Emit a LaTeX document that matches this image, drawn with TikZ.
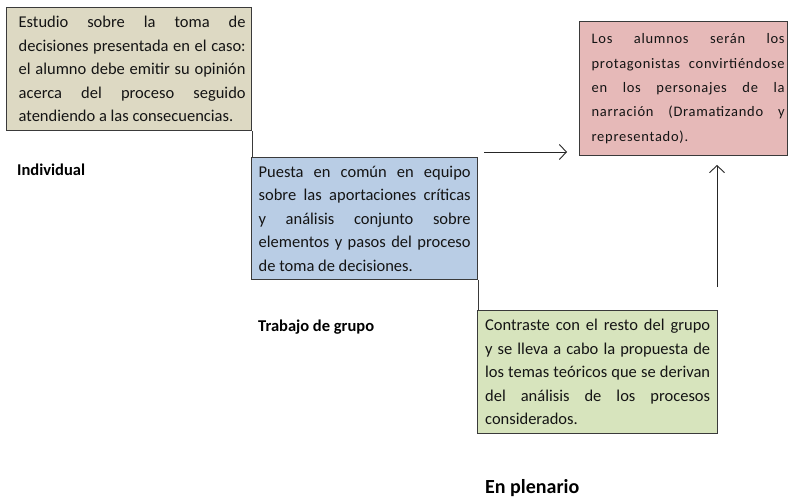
\documentclass[tikz,border=0pt]{standalone}
\usepackage{fontspec}
\setmainfont{Carlito}
\newfontfamily\pinkfont{Carlito}[LetterSpace=5]
\usetikzlibrary{arrows.meta}
\definecolor{beigefill}{HTML}{DDD9C3}
\definecolor{bluefill}{HTML}{B9CDE5}
\definecolor{greenfill}{HTML}{D7E4BD}
\definecolor{pinkfill}{HTML}{E6B9B8}
\definecolor{edgecol}{HTML}{3A3A3A}
\definecolor{txtcol}{HTML}{141414}
\newcommand{\boxtext}[3]{\hspace*{#1}\parbox{#2}{\fontsize{16.5}{23.5}\selectfont\tolerance=9999\hbadness=10000 #3}}
\newcommand{\pinktext}[3]{\hspace*{#1}\parbox{#2}{\pinkfont\fontsize{14.5}{24.3}\selectfont\tolerance=9999\hbadness=10000 #3}}
\tikzset{
  stagebox/.style={draw=edgecol, line width=1.3pt, inner sep=0pt, anchor=north west, text=txtcol},
  stairline/.style={draw=edgecol, line width=1.3pt},
  flowarrow/.style={draw=black!85, line width=0.9pt, -{Straight Barb[length=7pt,width=15pt,line width=0.9pt]}},
  stagelabel/.style={font=\bfseries\fontsize{16.5}{19}\selectfont, anchor=base west, inner sep=0pt, text=black}
}
\begin{document}
\begin{tikzpicture}[x=1pt,y=-1pt]
\useasboundingbox[fill=white] (0,0) rectangle (790,497);

\node[stagebox, fill=beigefill, minimum width=245pt, minimum height=123pt] (beige) at (6,7)
  {\boxtext{6pt}{227pt}{Estudio sobre la toma de\linebreak decisiones presentada en el caso:\linebreak el alumno debe emitir su opinión\linebreak acerca del proceso seguido\linebreak atendiendo a las consecuencias.}};

\node[stagebox, fill=bluefill, minimum width=226pt, minimum height=122pt] (blue) at (251,157)
  {\boxtext{0pt}{212pt}{Puesta en común en equipo\linebreak sobre las aportaciones críticas\linebreak y análisis conjunto sobre\linebreak elementos y pasos del proceso\linebreak de toma de decisiones.}};

\node[stagebox, fill=greenfill, minimum width=240pt, minimum height=123pt] (green) at (477,310)
  {\boxtext{0pt}{225pt}{Contraste con el resto del grupo\linebreak y se lleva a cabo la propuesta de\linebreak los temas teóricos que se derivan\linebreak del análisis de los procesos\linebreak considerados.}};

\node[stagebox, fill=pinkfill, minimum width=208pt, minimum height=134pt] (pink) at (579,21)
  {\pinktext{9pt}{193pt}{Los alumnos serán los\linebreak protagonistas convirtiéndose\linebreak en los personajes de la\linebreak narración (Dramatizando y\linebreak representado).}};

\draw[stairline] (beige.south east) -- (beige.south east |- blue.north);
\draw[stairline] (blue.south east) -- (blue.south east |- green.north);

\coordinate (hstart) at (484,152);
\coordinate (hend) at (567,152);
\draw[flowarrow] (hstart) -- (hend);

\coordinate (vstart) at (717,287);
\coordinate (vend) at (717,165);
\draw[flowarrow] (vstart) -- (vend);

\node[stagelabel] (lindiv) at (17,176) {Individual};
\node[stagelabel] (lgrupo) at (258,331) {Trabajo de grupo};
\node[stagelabel, font=\bfseries\fontsize{20}{24}\selectfont] (lplen) at (485,493) {En plenario};
\end{tikzpicture}
\end{document}
